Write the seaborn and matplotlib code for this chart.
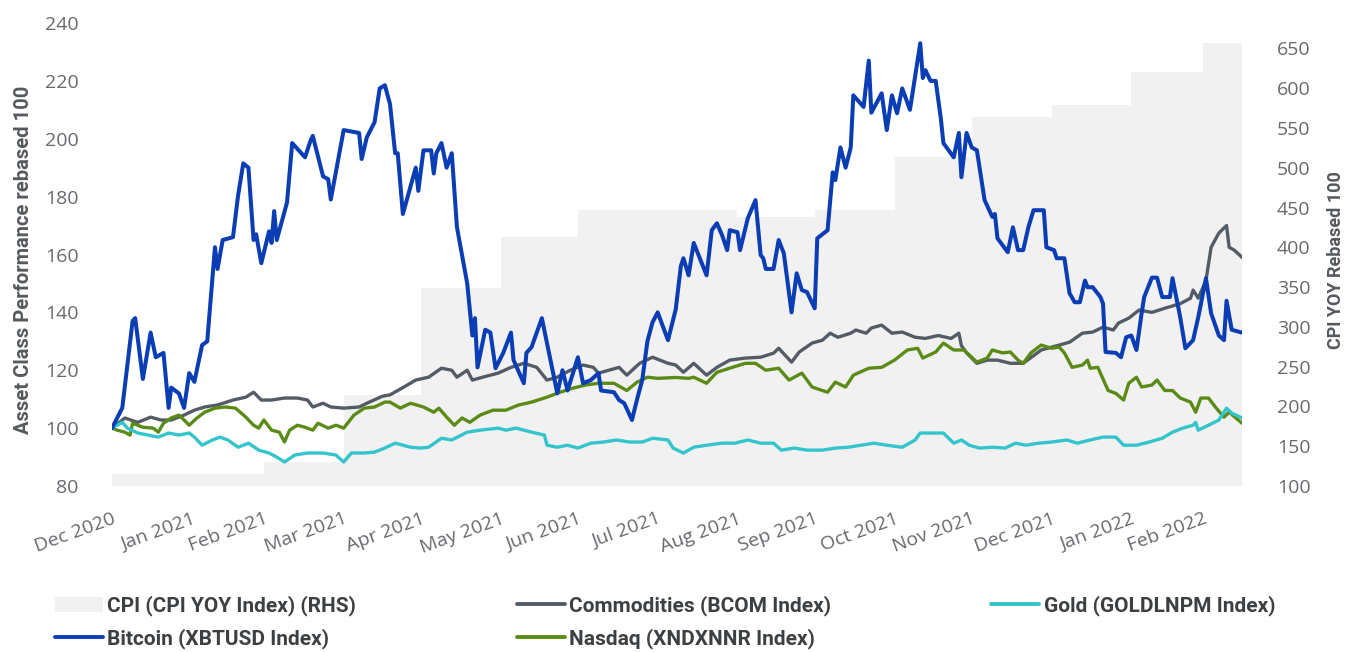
import numpy as np
import pandas as pd
import matplotlib
matplotlib.use("Agg")
import matplotlib.pyplot as plt
import seaborn as sns
from matplotlib.patches import Patch
from matplotlib.lines import Line2D

sns.set_theme(style="white")
plt.rcParams['font.family'] = ['Open Sans', 'DejaVu Sans']

START = "2020-12-31"
END_DAY = 439

# ---- data (day offsets from 2020-12-31, rebased values) ----
btc_days = [0, 4, 8, 9, 12, 15, 17, 20, 22, 23, 26, 28, 30, 32, 35, 37, 40, 41, 43, 47, 49, 51, 53, 55, 56, 58,
            61, 62, 63, 64, 68, 70, 75, 77, 78, 82, 84, 85, 90, 96, 97, 99, 102, 104, 106, 108, 110, 111, 113, 118,
            119, 121, 124, 125, 126, 128, 130, 132, 134, 138, 140, 141, 142, 145, 147, 149, 152, 155, 156, 160, 161,
            163, 167, 173, 175, 177, 181, 183, 186, 189, 190, 195, 197, 199, 202, 204, 206, 208, 210, 212, 216, 219,
            221, 222, 224, 226, 231, 233, 235, 237, 239, 240, 243, 244, 247, 250, 252, 253, 254, 257, 259, 261, 264,
            266, 268, 270, 273, 274, 278, 280, 281, 283, 285, 287, 288, 292, 294, 295, 299, 301, 303, 305, 307, 310,
            314, 315, 316, 318, 320, 322, 323, 327, 329, 330, 332, 334, 336, 339, 342, 343, 344, 348, 350, 352, 354,
            356, 358, 362, 363, 366, 367, 370, 372, 374, 376, 378, 379, 381, 384, 385, 386, 390, 392, 394, 396, 398,
            400, 401, 404, 406, 408, 411, 412, 415, 417, 420, 422, 425, 427, 430, 432, 433, 435, 439]
btc_vals = [100, 107, 137, 138, 117, 133, 124.5, 126, 107, 114, 112, 107, 119, 116, 128.7, 130, 162.5, 155, 165, 166,
            180.5, 191.5, 190, 165, 167, 157, 168, 164, 175, 165, 178, 198.5, 193.6, 199, 201, 187, 186, 179, 203, 202,
            193, 200.5, 205.7, 217.4, 218.5, 212, 195, 195, 174, 190, 182, 196, 196, 188, 195, 198.5, 190, 195, 169.5,
            150, 132, 138, 121, 134, 133, 120.7, 126, 133, 123.5, 115.5, 126, 128, 138, 112, 120, 113, 124.5, 115.5,
            116.6, 119, 113, 112.4, 109.7, 108.6, 102.8, 110, 116.6, 130, 136.6, 140, 130.4, 141, 156, 158.7, 152.8,
            164, 152.8, 168.4, 170.8, 166.7, 161.5, 168.4, 167.7, 161.5, 172.5, 178.8, 159.8, 158.7, 155, 155, 165,
            160.4, 140, 153.5, 147.7, 147, 141.4, 165.6, 168.4, 188.4, 185.7, 197, 190, 197, 215, 211, 227, 209, 215.7,
            203, 215, 208.8, 217.4, 210, 233, 221, 223.7, 220, 220, 207, 198.5, 193.6, 202, 186.7, 202, 197, 196,
            178.8, 173, 174, 165.6, 160.8, 169.4, 161.5, 161.5, 169.4, 175.3, 175.3, 162.5, 161.5, 158.7, 158.7,
            146.6, 143.5, 143.5, 151, 148.7, 148.7, 145.3, 143, 126.3, 126, 124.5, 131.4, 132, 127, 139.7, 145.3, 152,
            152, 145.3, 145.3, 151.8, 138.3, 127.6, 130.4, 138.3, 151.8, 139.7, 132, 130.4, 144, 134, 133]

com_days = [0, 5, 10, 15, 19, 23, 28, 32, 36, 41, 47, 52, 55, 58, 62, 67, 72, 76, 78, 82, 85, 90, 96, 99, 105, 108,
            113, 118, 123, 128, 132, 134, 138, 140, 144, 150, 155, 160, 165, 169, 173, 178, 183, 187, 189, 193, 197,
            200, 205, 210, 216, 219, 222, 226, 231, 235, 240, 246, 252, 257, 259, 264, 267, 272, 276, 279, 282, 287,
            289, 293, 295, 299, 303, 307, 312, 316, 321, 326, 329, 330, 332, 336, 340, 344, 349, 354, 361, 368, 372,
            377, 381, 385, 389, 391, 395, 399, 404, 410, 415, 419, 420, 422, 425, 427, 430, 433, 434, 436, 439]
com_vals = [100, 103.5, 102, 103.8, 102.8, 102.8, 104.5, 106.2, 107.3, 108, 109.7, 110.7, 112.4, 109.7, 109.7, 110.4,
            110.4, 109.7, 107.3, 108.6, 107.3, 106.9, 107.3, 108.6, 111, 111.5, 114, 116.6, 117.6, 120.7, 120, 117.6,
            120, 116.6, 117.6, 119, 121, 122.4, 121, 116.6, 117.6, 120, 121.8, 121, 119, 120, 121, 118.3, 122.4, 124.5,
            122.4, 121.8, 119.3, 122.4, 118.3, 121, 123.5, 124.2, 124.5, 125.9, 127.6, 122.8, 126.3, 129.4, 130.4,
            132.8, 131.4, 132.8, 133.9, 132.8, 134.6, 135.6, 132.8, 133.2, 131.4, 131, 132, 131, 132.8, 128.5, 126,
            122.4, 123.5, 123.5, 122.4, 122.4, 127, 128.7, 129.7, 132.8, 133.2, 134.9, 133.9, 136.3, 138, 140.8, 140,
            141.7, 143, 144.9, 147.7, 144.9, 151, 162.5, 167.4, 170, 162.5, 161.5, 159]

ndx_days = [0, 2, 5, 7, 8, 12, 16, 18, 20, 23, 26, 28, 30, 33, 36, 40, 44, 48, 52, 55, 57, 59, 62, 65, 67, 69, 72, 75,
            78, 80, 84, 87, 90, 94, 98, 102, 106, 108, 112, 116, 121, 125, 127, 130, 133, 136, 139, 143, 148, 153, 158,
            163, 169, 174, 179, 184, 189, 195, 200, 204, 208, 212, 219, 224, 226, 231, 235, 241, 246, 250, 254, 259,
            263, 268, 272, 278, 281, 285, 288, 294, 299, 304, 309, 313, 315, 320, 323, 327, 331, 334, 336, 340, 342,
            346, 349, 352, 354, 357, 361, 365, 368, 370, 373, 377, 379, 380, 383, 387, 390, 393, 395, 398, 400, 404,
            406, 409, 412, 415, 419, 421, 423, 426, 429, 432, 434, 439]
ndx_vals = [100, 99.3, 98.6, 97.6, 101.7, 100.3, 100, 98.6, 101.7, 103.5, 104.5, 102.8, 101, 103.5, 105.5, 106.9, 107.3,
            106.9, 103.8, 101, 100, 102.8, 99.3, 98.6, 95.2, 99.3, 101, 100.3, 99.3, 101.7, 100, 101, 100, 104.5, 106.9,
            107.3, 109, 109, 106.9, 108.6, 107.3, 105.5, 106.9, 103.8, 101, 103.5, 102, 104.5, 106.2, 106.2, 108, 109,
            110.7, 112.4, 113.8, 114.9, 115.5, 115.5, 113, 115.9, 117.6, 117.2, 117.5, 117.2, 117.6, 115.5, 119.3, 121,
            122.4, 122.4, 120, 120.7, 116.6, 119, 114.2, 112.4, 115.9, 114.2, 118.3, 120.7, 121, 123.5, 127, 127.6,
            124.2, 126.3, 129.4, 127, 127, 124.5, 122.8, 124.2, 127, 126, 126.3, 123.5, 122.4, 126, 128.7, 127.6, 128,
            126, 121, 121.8, 123.5, 120.7, 121, 113, 112, 109.7, 115.5, 117.6, 114.2, 114.9, 116.6, 113, 113, 110.4,
            109, 105.5, 110.4, 110.4, 106.9, 103.8, 105.5, 101.7]

gold_days = [0, 4, 6, 10, 14, 18, 22, 26, 30, 32, 35, 39, 42, 45, 49, 53, 57, 61, 64, 67, 71, 76, 82, 87, 90, 93, 98,
             102, 106, 110, 116, 120, 123, 128, 132, 138, 143, 150, 153, 157, 163, 168, 169, 173, 177, 181, 186, 191,
             196, 201, 206, 210, 216, 218, 222, 226, 231, 237, 242, 247, 252, 257, 260, 265, 270, 276, 281, 286, 291,
             296, 301, 307, 312, 314, 319, 323, 327, 330, 333, 337, 342, 347, 351, 355, 360, 365, 371, 375, 380, 385,
             390, 393, 398, 403, 408, 412, 416, 420, 421, 422, 426, 430, 433, 435, 439]
gold_vals = [100, 102, 100, 98.3, 97.6, 96.9, 98.3, 97.6, 98.3, 96.9, 94.1, 95.9, 96.9, 95.9, 93.4, 94.8, 92.4, 91.4, 90,
             88.3, 90.7, 91.4, 91.4, 90.7, 88.3, 91.4, 91.4, 91.7, 93.1, 94.8, 93.4, 93.1, 93.4, 96.5, 95.9, 98.6, 99.3,
             100, 99.3, 100, 98.6, 97.6, 94.1, 93.4, 94.1, 93.1, 94.8, 95.2, 95.9, 95.2, 95.2, 96.5, 95.9, 93.1, 91.4,
             93.4, 94.1, 94.8, 94.8, 95.9, 94.8, 94.8, 92.4, 93.1, 92.4, 92.4, 93.1, 93.4, 94.1, 94.8, 94.1, 93.4, 95.9,
             98.3, 98.3, 98.3, 94.8, 95.9, 94.1, 93.1, 93.4, 93.1, 94.8, 94.1, 94.8, 95.2, 95.9, 94.8, 95.9, 96.9, 96.9,
             94.1, 94.1, 95.2, 96.5, 98.6, 100, 101, 102, 99.3, 101, 102.8, 106.9, 105.2, 103.5]

# CPI YOY rebased (RHS), value shown from each month-end
cpi_months = ["2020-12-31", "2021-01-31", "2021-02-28", "2021-03-31", "2021-04-30", "2021-05-31", "2021-06-30",
              "2021-07-31", "2021-08-31", "2021-09-30", "2021-10-31", "2021-11-30", "2021-12-31", "2022-01-31",
              "2022-02-28"]
cpi_vals = [115, 115, 130, 214, 349, 413, 447, 447, 438, 447, 513, 564, 579, 620, 657]

tick_labels = ["Dec 2020", "Jan 2021", "Feb 2021", "Mar 2021", "Apr 2021", "May 2021", "Jun 2021", "Jul 2021",
               "Aug 2021", "Sep 2021", "Oct 2021", "Nov 2021", "Dec 2021", "Jan 2022", "Feb 2022"]

colors = {"btc": "#0b3eb4", "com": "#535c66", "gold": "#33c4cc", "ndx": "#5b8b17", "cpi": "#f1f1f1"}
BOLD = ['Roboto', 'DejaVu Sans']

start = pd.Timestamp(START)
end = start + pd.Timedelta(days=END_DAY)


def frame(days, vals):
    return pd.DataFrame({"date": start + pd.to_timedelta(days, unit="D"), "value": vals})


fig = plt.figure(figsize=(13.49, 6.52), dpi=100)
ax = fig.add_axes([112 / 1349, 1 - 486 / 652, (1242 - 112) / 1349, (486 - 23) / 652])
ax2 = ax.twinx()

# CPI shading on right axis
cpi_d = list(pd.to_datetime(cpi_months)) + [end]
cpi_v = cpi_vals + [cpi_vals[-1]]
ax2.fill_between(cpi_d, 100, cpi_v, step="post", color=colors["cpi"], linewidth=0)
ax2.set_ylim(100, 682)

ax.set_zorder(ax2.get_zorder() + 1)
ax.patch.set_visible(False)

sns.lineplot(data=frame(com_days, com_vals), x="date", y="value", ax=ax, color=colors["com"], linewidth=2.4)
sns.lineplot(data=frame(ndx_days, ndx_vals), x="date", y="value", ax=ax, color=colors["ndx"], linewidth=2.4)
sns.lineplot(data=frame(gold_days, gold_vals), x="date", y="value", ax=ax, color=colors["gold"], linewidth=2.4)
sns.lineplot(data=frame(btc_days, btc_vals), x="date", y="value", ax=ax, color=colors["btc"], linewidth=2.9)

ax.set_xlim(start, end)
ax.set_ylim(80, 240)
ax.set_yticks(np.arange(80, 241, 20))
ax2.set_yticks(np.arange(100, 651, 50))

tick_dates = pd.to_datetime(cpi_months)
ax.set_xticks(tick_dates)
ax.set_xticklabels(tick_labels, rotation=20, ha="right", rotation_mode="anchor")

for a in (ax, ax2):
    for s in a.spines.values():
        s.set_visible(False)
    a.tick_params(length=0, labelsize=14, labelcolor="#666a6e")
ax.tick_params(axis="y", pad=24)
ax2.tick_params(axis="y", pad=25)
ax.tick_params(axis="x", pad=17)

ax.set_xlabel("")
ax.set_ylabel("Asset Class Performance rebased 100", fontsize=14.5, fontweight="bold", color="#55595e",
              family=BOLD)
ax.yaxis.set_label_coords((33 - 112) / 1130, 0.489)
ax2.set_ylabel("CPI YOY Rebased 100", fontsize=13, fontweight="bold", color="#55595e", family=BOLD)
ax2.yaxis.set_label_coords((1327 - 112) / 1130, 0.489)

handles = [Patch(facecolor=colors["cpi"], edgecolor="none"),
           Line2D([], [], color=colors["btc"], lw=2.8),
           Line2D([], [], color=colors["com"], lw=2.8),
           Line2D([], [], color=colors["ndx"], lw=2.8),
           Line2D([], [], color=colors["gold"], lw=2.8)]
labels = ["CPI (CPI YOY Index) (RHS)", "Bitcoin (XBTUSD Index)", "Commodities (BCOM Index)",
          "Nasdaq (XNDXNNR Index)", "Gold (GOLDLNPM Index)"]
leg = fig.legend(handles, labels, ncol=3, loc="lower left",
                 bbox_to_anchor=(55 / 1349, 3 / 652, (1275 - 55) / 1349, 0.1),
                 mode="expand", frameon=False, handlelength=2.3, handletextpad=0.2,
                 labelspacing=0.58, borderaxespad=0.0, borderpad=0.0,
                 prop={"family": BOLD, "weight": "bold", "size": 15})
for t in leg.get_texts():
    t.set_color("#3c4043")

fig.savefig("out.png", dpi=100)
